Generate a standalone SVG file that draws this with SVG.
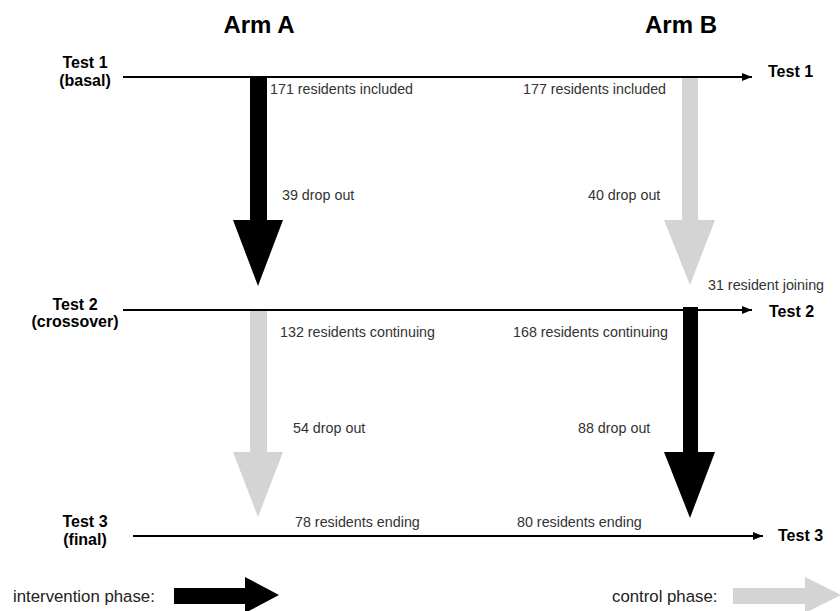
<svg xmlns="http://www.w3.org/2000/svg" width="840" height="611" viewBox="0 0 840 611">
  <style>
    .title { font-family: "Liberation Sans", Arial, sans-serif; font-weight: bold; font-size: 24px; fill: #000; text-anchor: middle; }
    .test { font-family: "Liberation Sans", Arial, sans-serif; font-weight: bold; font-size: 16px; fill: #000; }
    .mid { text-anchor: middle; }
    .lbl { font-family: "Liberation Sans", Arial, sans-serif; font-size: 14.3px; fill: #333; }
    .leg { font-family: "Liberation Sans", Arial, sans-serif; font-size: 16.8px; fill: #222; }
    .tl { stroke: #000; stroke-width: 2; fill: none; marker-end: url(#ah); }
    .int { fill: #000; }
    .ctl { fill: #d4d4d4; }
  </style>
  <defs>
    <marker id="ah" viewBox="0 0 10 8" refX="10" refY="4" markerWidth="10" markerHeight="8" markerUnits="userSpaceOnUse" orient="auto">
      <path d="M0,0 L10,4 L0,8 Z" fill="#000"/>
    </marker>
  </defs>
  <rect width="840" height="611" fill="#fff"/>

  <g id="titles">
    <text class="title" x="259" y="33">Arm A</text>
    <text class="title" x="681" y="33">Arm B</text>
  </g>

  <g id="connectors">
    <line id="timeline1" class="tl" x1="123" y1="77" x2="752" y2="77"/>
    <line id="timeline2" class="tl" x1="123" y1="310" x2="752" y2="310"/>
    <line id="timeline3" class="tl" x1="133" y1="536" x2="763" y2="536"/>
    <polygon id="flowA1" class="int" points="250,77 267,77 267,220 283,220 258,286 233,220 250,220"/>
    <polygon id="flowB1" class="ctl" points="682,78 698,78 698,220 715,220 690,285 664,220 682,220"/>
    <polygon id="flowA2" class="ctl" points="250,311 267,311 267,452 283,452 258,517 233,452 250,452"/>
    <polygon id="flowB2" class="int" points="683,307 698,307 698,452 715,452 690,518 664,452 683,452"/>
  </g>

  <g id="test1-left">
    <text class="test mid" x="85" y="68">Test 1</text>
    <text class="test mid" x="85" y="86">(basal)</text>
  </g>
  <g id="test1-right"><text class="test" x="768" y="77">Test 1</text></g>
  <g id="test2-left">
    <text class="test mid" x="75" y="310">Test 2</text>
    <text class="test mid" x="75" y="327">(crossover)</text>
  </g>
  <g id="test2-right"><text class="test" x="769" y="317">Test 2</text></g>
  <g id="test3-left">
    <text class="test mid" x="85" y="527">Test 3</text>
    <text class="test mid" x="85" y="545">(final)</text>
  </g>
  <g id="test3-right"><text class="test" x="778" y="541">Test 3</text></g>

  <g id="counts">
    <text class="lbl" x="270" y="94">171 residents included</text>
    <text class="lbl" x="523" y="94">177 residents included</text>
    <text class="lbl" x="282" y="200">39 drop out</text>
    <text class="lbl" x="588" y="200">40 drop out</text>
    <text class="lbl" x="708" y="290">31 resident joining</text>
    <text class="lbl" x="280" y="337">132 residents continuing</text>
    <text class="lbl" x="513" y="337">168 residents continuing</text>
    <text class="lbl" x="293" y="433">54 drop out</text>
    <text class="lbl" x="578" y="433">88 drop out</text>
    <text class="lbl" x="295" y="527">78 residents ending</text>
    <text class="lbl" x="517" y="527">80 residents ending</text>
  </g>

  <g id="legend-intervention">
    <text class="leg" x="13" y="602">intervention phase:</text>
    <polygon class="int" points="174,588 245,588 245,577 279,595 245,613 245,604 174,604"/>
  </g>
  <g id="legend-control">
    <text class="leg" x="612" y="602">control phase:</text>
    <polygon class="ctl" points="733,588 805,588 805,577 841,595 805,613 805,604 733,604"/>
  </g>
</svg>
